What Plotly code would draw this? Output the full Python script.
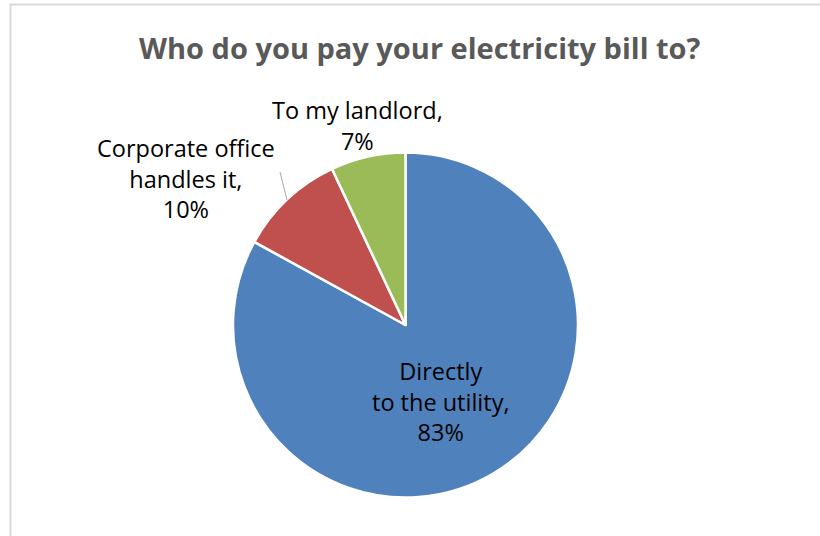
import plotly.graph_objects as go

# Survey responses
labels = ["Directly<br>to the utility", "Corporate office<br>handles it", "To my landlord"]
shares = [83, 10, 7]
colors = ["#4F81BD", "#C0504D", "#9BBB59"]

W, H = 820, 536
title = "Who do you pay your electricity bill to?"


def px(x):
    return x / W


def py(y):
    return 1 - y / H


cx, cy, r = 405.5, 325.0, 172.5

fig = go.Figure(
    go.Pie(
        labels=labels,
        values=shares,
        sort=False,
        direction="clockwise",
        rotation=0,
        marker=dict(colors=colors, line=dict(color="white", width=2.5)),
        textinfo="none",
        hoverinfo="label+percent",
        domain=dict(x=[px(cx - r), px(cx + r)], y=[py(cy + r), py(cy - r)]),
        showlegend=False,
    )
)

# label placement (pixel centres) for each slice
label_pos = [(441, 401), (186, 179), (357, 125)]
annotations = []
for lab, val, (lx, ly) in zip(labels, shares, label_pos):
    annotations.append(
        dict(
            text=f"{lab},<br>{val}%",
            x=px(lx), y=py(ly), xref="paper", yref="paper",
            showarrow=False, xanchor="center", yanchor="middle",
            font=dict(family="Open Sans", size=23.5, color="#000000"),
        )
    )

annotations.append(
    dict(
        text=f"<b>{title}</b>",
        x=px(420), y=py(47), xref="paper", yref="paper",
        showarrow=False, xanchor="center", yanchor="middle",
        font=dict(family="Open Sans", size=29, color="#595959"),
    )
)

shapes = [
    # chart frame
    dict(type="rect", xref="paper", yref="paper",
         x0=px(10.5), x1=px(W + 20), y0=py(H + 20), y1=py(4.5),
         line=dict(color="#D9D9D9", width=2), fillcolor="rgba(0,0,0,0)", layer="below"),
    # leader line for the small slice label
    dict(type="line", xref="paper", yref="paper",
         x0=px(280), y0=py(172), x1=px(287), y1=py(200),
         line=dict(color="#A6A6A6", width=1)),
]

fig.update_layout(
    width=W, height=H,
    margin=dict(l=0, r=0, t=0, b=0),
    paper_bgcolor="white", plot_bgcolor="white",
    annotations=annotations, shapes=shapes,
)

fig.write_html("out.html")
